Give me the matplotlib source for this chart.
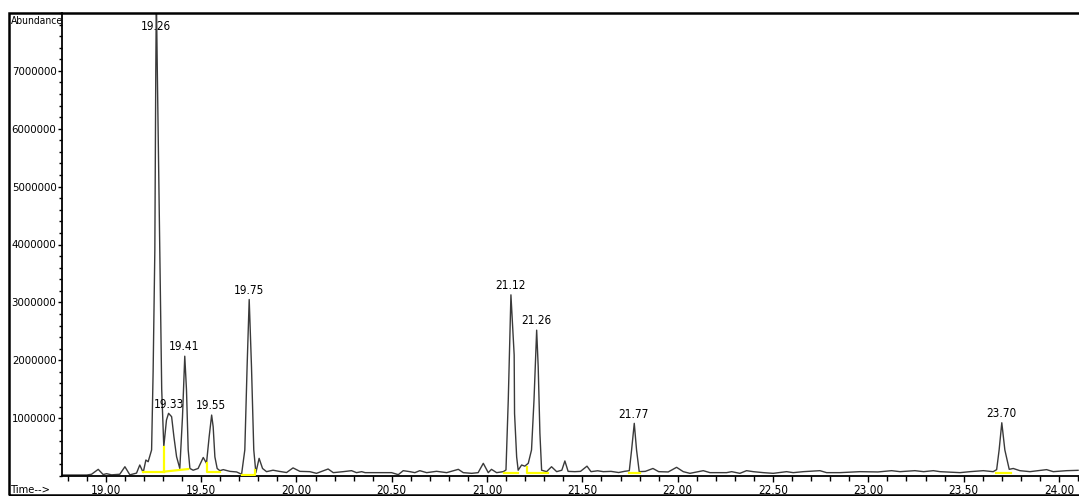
import numpy as np
import matplotlib.pyplot as plt
from matplotlib.patches import Rectangle
from matplotlib.ticker import MultipleLocator, FixedLocator, FuncFormatter

# Cromatograma: tiempo (min) y abundancia (millones)
tiempo = [18.769, 18.900, 18.925, 18.960, 18.986, 19.004, 19.030, 19.073, 19.100, 19.126,
          19.161, 19.178, 19.196, 19.210, 19.222, 19.240, 19.248, 19.257, 19.262, 19.265,
          19.270, 19.283, 19.293, 19.304, 19.318, 19.329, 19.345, 19.357, 19.371, 19.388,
          19.402, 19.414, 19.423, 19.432, 19.441, 19.458, 19.484, 19.511, 19.528, 19.542,
          19.555, 19.563, 19.572, 19.584, 19.598, 19.616, 19.651, 19.686, 19.712, 19.729,
          19.741, 19.752, 19.764, 19.776, 19.787, 19.804, 19.822, 19.843, 19.877, 19.910,
          19.948, 19.982, 20.018, 20.070, 20.105, 20.166, 20.193, 20.245, 20.289, 20.315,
          20.342, 20.360, 20.499, 20.534, 20.560, 20.595, 20.621, 20.647, 20.683, 20.735,
          20.788, 20.849, 20.875, 20.919, 20.953, 20.980, 21.006, 21.023, 21.050, 21.085,
          21.099, 21.111, 21.120, 21.125, 21.134, 21.142, 21.144, 21.155, 21.163, 21.181,
          21.198, 21.216, 21.233, 21.246, 21.260, 21.268, 21.277, 21.286, 21.312, 21.338,
          21.365, 21.392, 21.408, 21.425, 21.460, 21.490, 21.524, 21.545, 21.580, 21.610,
          21.650, 21.690, 21.720, 21.746, 21.758, 21.772, 21.784, 21.798, 21.830, 21.870,
          21.900, 21.950, 21.994, 22.029, 22.064, 22.134, 22.169, 22.256, 22.283, 22.326,
          22.361, 22.396, 22.449, 22.501, 22.571, 22.606, 22.659, 22.746, 22.781, 22.851,
          22.956, 23.050, 23.122, 23.166, 23.244, 23.290, 23.341, 23.376, 23.481, 23.533,
          23.603, 23.655, 23.673, 23.686, 23.700, 23.716, 23.739, 23.760, 23.795, 23.848,
          23.935, 23.970, 24.040, 24.100]
abund_M = [0.017, 0.017, 0.030, 0.115, 0.025, 0.040, 0.020, 0.030, 0.160, 0.020,
           0.050, 0.190, 0.060, 0.276, 0.247, 0.450, 1.800, 3.900, 7.000, 8.300,
           7.000, 3.900, 1.500, 0.506, 0.967, 1.083, 1.025, 0.680, 0.334, 0.130,
           1.020, 2.070, 1.490, 0.450, 0.130, 0.100, 0.130, 0.320, 0.220, 0.680,
           1.053, 0.850, 0.330, 0.130, 0.092, 0.110, 0.080, 0.070, 0.030, 0.450,
           1.890, 3.050, 1.890, 0.450, 0.058, 0.305, 0.130, 0.075, 0.100, 0.080,
           0.060, 0.140, 0.080, 0.075, 0.046, 0.121, 0.058, 0.075, 0.092, 0.058,
           0.075, 0.058, 0.058, 0.023, 0.092, 0.075, 0.058, 0.092, 0.058, 0.081,
           0.058, 0.115, 0.058, 0.046, 0.058, 0.219, 0.058, 0.115, 0.058, 0.075,
           0.104, 1.310, 2.460, 3.130, 2.580, 2.090, 1.080, 0.330, 0.100, 0.190,
           0.170, 0.220, 0.450, 1.310, 2.520, 1.890, 0.740, 0.100, 0.075, 0.160,
           0.075, 0.100, 0.260, 0.080, 0.075, 0.080, 0.170, 0.075, 0.090, 0.075,
           0.080, 0.060, 0.080, 0.092, 0.450, 0.910, 0.450, 0.075, 0.080, 0.130,
           0.075, 0.070, 0.150, 0.075, 0.046, 0.092, 0.058, 0.058, 0.075, 0.046,
           0.092, 0.075, 0.058, 0.046, 0.075, 0.058, 0.075, 0.092, 0.058, 0.058,
           0.075, 0.070, 0.092, 0.075, 0.092, 0.075, 0.092, 0.075, 0.058, 0.075,
           0.092, 0.075, 0.110, 0.450, 0.920, 0.450, 0.115, 0.130, 0.092, 0.075,
           0.110, 0.075, 0.092, 0.098]

# Lineas base de integracion (amarillo)
base_t = [[19.196, 19.304], [19.304, 19.304], [19.304, 19.432],
          [19.532, 19.532, 19.598], [19.712, 19.782, 19.782],
          [21.088, 21.163], [21.207, 21.207, 21.320],
          [21.746, 21.800], [23.669, 23.746]]
base_a = [[0.075, 0.075], [0.075, 0.500], [0.075, 0.120],
          [0.220, 0.075, 0.075], [0.017, 0.017, 0.100],
          [0.060, 0.060], [0.160, 0.060, 0.060],
          [0.060, 0.060], [0.060, 0.060]]

# Picos etiquetados
picos_t = [19.26, 19.33, 19.41, 19.55, 19.75, 21.12, 21.26, 21.77, 23.70]
picos_h = [8.30, 1.083, 2.07, 1.053, 3.05, 3.13, 2.52, 0.91, 0.92]
picos_lbl = ["19.26", "19.33", "19.41", "19.55", "19.75", "21.12", "21.26", "21.77", "23.70"]

y_ticks = [1000000, 2000000, 3000000, 4000000, 5000000, 6000000, 7000000]
x_ticks = [19.0, 19.5, 20.0, 20.5, 21.0, 21.5, 22.0, 22.5, 23.0, 23.5, 24.0]

plt.rcParams['font.family'] = ['DejaVu Sans']
plt.rcParams['font.stretch'] = 'condensed'

fig = plt.figure(figsize=(10.79, 4.96), dpi=100)
ax = fig.add_axes([62 / 1079, 20 / 496, 1017 / 1079, 463 / 496])

t = np.array(tiempo)
a = np.array(abund_M) * 1e6
ax.plot(t, a, color='#3a3a3a', lw=1.0, zorder=2)

for bt, ba in zip(base_t, base_a):
    ax.plot(bt, np.array(ba) * 1e6, color='#ffff00', lw=1.6, zorder=3)

ymax = 8.0e6
for pt, ph, lbl in zip(picos_t, picos_h, picos_lbl):
    ax.annotate(lbl, xy=(pt, min(ph * 1e6, 7.6e6)), xytext=(0, 2),
                textcoords='offset points', ha='center', va='bottom',
                fontsize=8.5, color='black')

ax.set_xlim(18.77, 24.105)
ax.set_ylim(0, ymax)

ax.xaxis.set_major_locator(FixedLocator(x_ticks))
ax.xaxis.set_minor_locator(MultipleLocator(0.1))
ax.xaxis.set_major_formatter(FuncFormatter(lambda v, p: f"{v:.2f}"))
ax.yaxis.set_major_locator(FixedLocator(y_ticks))
ax.yaxis.set_minor_locator(MultipleLocator(200000))
ax.yaxis.set_major_formatter(FuncFormatter(lambda v, p: f"{int(v)}"))

ax.tick_params(axis='x', which='major', length=4.5, width=1, pad=1.5, labelsize=8.5)
ax.tick_params(axis='x', which='minor', length=3.5, width=1)
ax.tick_params(axis='y', which='major', length=3, width=1, pad=1, labelsize=8.2)
ax.tick_params(axis='y', which='minor', length=2, width=1)

for s in ['top', 'right']:
    ax.spines[s].set_visible(False)
ax.spines['left'].set_linewidth(1.3)
ax.spines['bottom'].set_linewidth(1.3)

fig.text(11 / 1079, 1 - 21 / 496, "Abundance", fontsize=7.4, ha='left', va='center')
fig.text(11 / 1079, 1 - 490 / 496, "Time-->", fontsize=8, ha='left', va='center')

# marco exterior
fig.add_artist(Rectangle((9 / 1079, 1 / 496), 1.0, 482 / 496, fill=False,
                         edgecolor='black', lw=1.8, transform=fig.transFigure,
                         zorder=10))

fig.savefig("out.png", dpi=100)
